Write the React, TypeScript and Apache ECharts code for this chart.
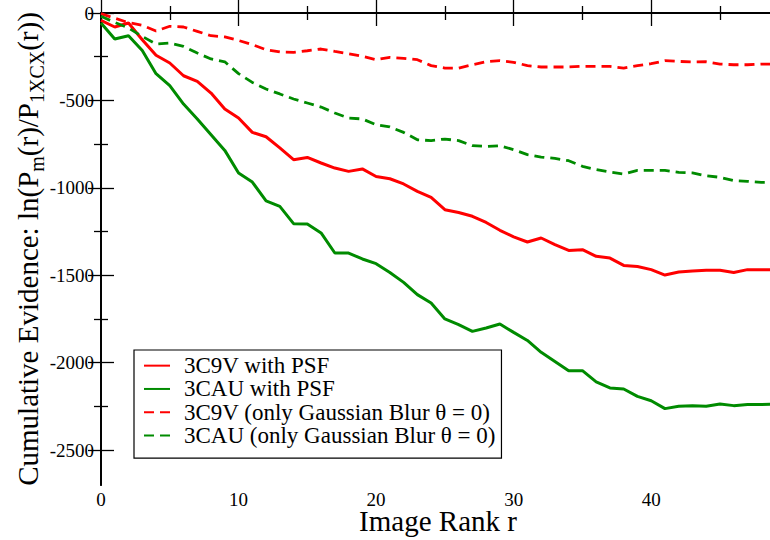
import React, { useEffect, useRef } from "react";
import * as echarts from "echarts";

// Image rank r on the horizontal axis
const ranks = [
  0, 1, 2, 3, 4, 5, 6, 7, 8, 9, 10, 11, 12, 13, 14, 15, 16, 17, 18, 19, 20, 21, 22, 23, 24,
  25, 26, 27, 28, 29, 30, 31, 32, 33, 34, 35, 36, 37, 38, 39, 40, 41, 42, 43, 44, 45, 46, 47, 48, 49,
];

// Cumulative evidence ln(P_m(r)/P_1XCX(r)) per model
const c9vPsf = [
  -42, -80, -57, -153, -242, -286, -359, -391, -458, -549, -601, -683, -708, -772, -839, -826, -858,
  -887, -906, -892, -935, -948, -978, -1020, -1055, -1125, -1141, -1163, -1198, -1243, -1281, -1310,
  -1287, -1325, -1358, -1354, -1392, -1402, -1444, -1450, -1468, -1499, -1482, -1476, -1472, -1472,
  -1484, -1468, -1468, -1468,
];
const cauPsf = [
  -57, -149, -130, -214, -347, -416, -521, -606, -696, -786, -915, -967, -1075, -1106, -1205, -1207,
  -1258, -1373, -1373, -1407, -1434, -1484, -1541, -1611, -1659, -1750, -1783, -1821, -1802, -1779,
  -1827, -1873, -1941, -1993, -2046, -2046, -2110, -2145, -2151, -2193, -2218, -2263, -2250, -2246,
  -2250, -2237, -2246, -2240, -2240, -2238,
];
const c9vGauss = [
  -4, -30, -55, -70, -103, -76, -80, -105, -130, -137, -157, -181, -210, -223, -225, -216, -206, -220,
  -233, -248, -267, -254, -259, -267, -301, -315, -315, -296, -279, -273, -282, -301, -309, -309, -309,
  -305, -305, -305, -315, -301, -290, -273, -277, -280, -279, -292, -296, -296, -292, -292,
];
const cauGauss = [
  -19, -54, -86, -134, -177, -172, -191, -229, -263, -279, -347, -397, -435, -463, -492, -515, -538,
  -572, -601, -606, -639, -652, -683, -725, -730, -721, -730, -759, -763, -759, -782, -810, -824, -832,
  -845, -877, -896, -910, -921, -900, -900, -900, -912, -915, -931, -940, -959, -963, -969, -969,
];

const seriesNames = [
  "3C9V with PSF",
  "3CAU with PSF",
  "3C9V (only Gaussian Blur \u03b8 = 0)",
  "3CAU (only Gaussian Blur \u03b8 = 0)",
];

// Tick positions
const xMajor = [0, 10, 20, 30, 40];
const xMinor = [5, 15, 25, 35, 45];
const yMajor = [0, -500, -1000, -1500, -2000, -2500];
const yMinor = [-250, -750, -1250, -1750, -2250];

const FONT = "Liberation Serif";
const RED = "#ff0000";
const GREEN = "#008b00";

export default function App() {
  const ref = useRef<HTMLDivElement>(null);

  useEffect(() => {
    if (!ref.current) return;
    const chart = echarts.init(ref.current, undefined, { renderer: "svg" });

    const pairs = (vals: number[]) => ranks.map((r, i) => [r, vals[i]]);

    const axisLine = { show: true, lineStyle: { color: "#000", width: 1.8 } };
    const noLine = { show: false };

    const xBase = { type: "value" as const, min: 0, max: 49, splitLine: { show: false } };
    const yBase = { type: "value" as const, min: -2700, max: 0, splitLine: { show: false } };

    const majorTick = (vals: number[]) => ({
      show: true,
      inside: true,
      length: 13,
      customValues: vals,
      lineStyle: { color: "#000", width: 1.3 },
    });
    const minorTick = (vals: number[]) => ({
      show: true,
      inside: true,
      length: 7,
      customValues: vals,
      lineStyle: { color: "#000", width: 1.3 },
    });

    chart.setOption({
      animation: false,
      backgroundColor: "#fff",
      textStyle: { fontFamily: FONT },
      grid: {
        left: 101,
        top: 13,
        width: 674,
        height: 472,
        containLabel: false,
        outerBoundsMode: "none",
      },
      xAxis: [
        {
          ...xBase,
          position: "bottom",
          axisLine,
          axisTick: majorTick(xMajor),
          axisLabel: {
            customValues: xMajor,
            formatter: (v: number) => String(v),
            color: "#000",
            fontFamily: FONT,
            fontSize: 19,
            margin: 5,
          },
          name: "Image Rank r",
          nameLocation: "middle",
          nameGap: 21,
          nameMoveOverlap: false,
          nameTextStyle: { color: "#000", fontFamily: FONT, fontSize: 29 },
        },
        { ...xBase, position: "bottom", axisLine: noLine, axisTick: minorTick(xMinor), axisLabel: { show: false } },
        { ...xBase, position: "top", axisLine, axisTick: majorTick(xMajor), axisLabel: { show: false } },
        { ...xBase, position: "top", axisLine: noLine, axisTick: minorTick(xMinor), axisLabel: { show: false } },
      ],
      yAxis: [
        {
          ...yBase,
          position: "left",
          axisLine,
          axisTick: majorTick(yMajor),
          axisLabel: {
            customValues: yMajor,
            formatter: (v: number) => String(v),
            color: "#000",
            fontFamily: FONT,
            fontSize: 19,
            margin: 7,
          },
          name: "{n|Cumulative Evidence: ln(P}{s|m}{n|(r)/P}{s|1XCX}{n|(r))}",
          nameLocation: "middle",
          nameRotate: 90,
          nameGap: 54,
          nameMoveOverlap: false,
          nameTextStyle: {
            color: "#000",
            fontFamily: FONT,
            rich: {
              n: { fontFamily: FONT, fontSize: 29, lineHeight: 38, color: "#000" },
              s: { fontFamily: FONT, fontSize: 20, lineHeight: 18, verticalAlign: "bottom", color: "#000" },
            },
          },
        },
        { ...yBase, position: "left", axisLine: noLine, axisTick: minorTick(yMinor), axisLabel: { show: false } },
        { ...yBase, position: "right", axisLine, axisTick: majorTick(yMajor), axisLabel: { show: false } },
        { ...yBase, position: "right", axisLine: noLine, axisTick: minorTick(yMinor), axisLabel: { show: false } },
      ],
      legend: {
        orient: "vertical",
        left: 134,
        top: 350,
        itemWidth: 26,
        itemHeight: 1,
        itemGap: 0,
        padding: [4, 6, 11, 9],
        borderColor: "#000",
        borderWidth: 1.2,
        backgroundColor: "#fff",
        itemStyle: { color: "rgba(0,0,0,0)", borderWidth: 0 },
        textStyle: {
          color: "#000",
          fontFamily: FONT,
          fontSize: 23,
          lineHeight: 23.3,
          padding: [0, 0, 0, 9],
        },
        data: seriesNames,
      },
      series: [
        {
          name: seriesNames[0],
          type: "line",
          data: pairs(c9vPsf),
          symbol: "none",
          lineStyle: { color: RED, width: 3 },
          itemStyle: { color: RED },
        },
        {
          name: seriesNames[1],
          type: "line",
          data: pairs(cauPsf),
          symbol: "none",
          lineStyle: { color: GREEN, width: 3 },
          itemStyle: { color: GREEN },
        },
        {
          name: seriesNames[2],
          type: "line",
          data: pairs(c9vGauss),
          symbol: "none",
          lineStyle: { color: RED, width: 2.8, type: [10, 6] },
          itemStyle: { color: RED },
        },
        {
          name: seriesNames[3],
          type: "line",
          data: pairs(cauGauss),
          symbol: "none",
          lineStyle: { color: GREEN, width: 2.8, type: [10, 6] },
          itemStyle: { color: GREEN },
        },
      ],
    });

    return () => chart.dispose();
  }, []);

  return (
    <div
      ref={ref}
      style={{ position: "absolute", left: 0, top: 0, width: 770, height: 540 }}
    />
  );
}
